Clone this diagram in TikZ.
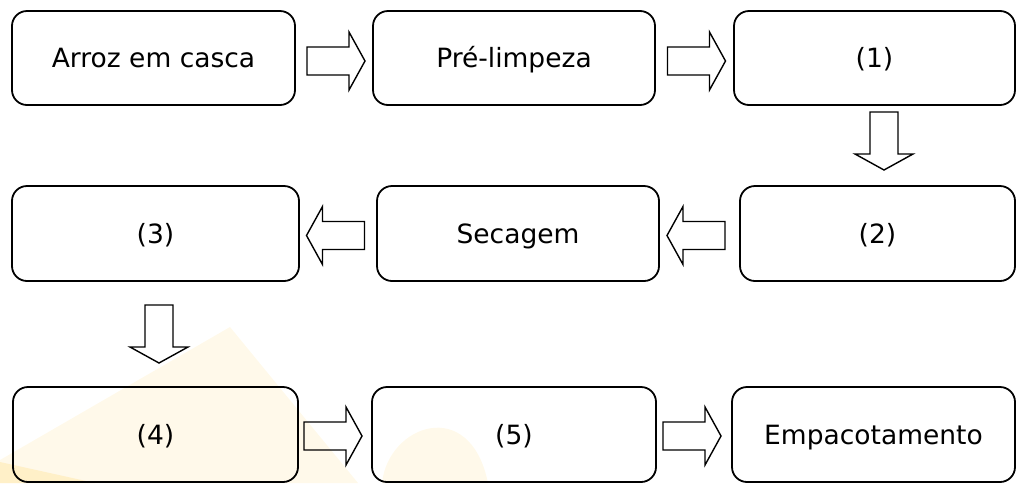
\documentclass[tikz,border=0pt]{standalone}
\usepackage{fontspec}
\setmainfont{DejaVu Sans}
\usetikzlibrary{calc}
\definecolor{wmA}{RGB}{255,249,234}
\definecolor{wmB}{RGB}{255,240,200}
\tikzset{
  box/.style={draw=black, line width=1.8pt, rounded corners=15pt, inner sep=0pt,
    minimum height=95pt, font=\fontsize{26.5}{30}\selectfont,
    text height=19pt, text depth=0pt},
  barrow/.pic={\draw[line width=1.4pt, line join=miter]
    (-29,-14) -- (13,-14) -- (13,-29) -- (29,0) -- (13,29) -- (13,14) -- (-29,14) -- cycle;}
}
\begin{document}
\begin{tikzpicture}[x=1pt,y=-1pt]
\useasboundingbox (0,0) rectangle (1017,483);
% faint watermark
\fill[wmA] (230,327) -- (358,483) -- (0,483) -- (0,460) -- cycle;
\fill[wmB] (0,462) -- (95,483) -- (0,483) -- cycle;
\fill[wmA] (382,483) .. controls (388,425) and (470,395) .. (488,483) -- cycle;
% boxes
\node[box, minimum width=283pt, minimum height=94pt] (b1) at (153.5,58) {Arroz em casca};
\node[box, minimum width=282pt, minimum height=94pt] (b2) at (514,58) {Pré-limpeza};
\node[box, minimum width=281pt, minimum height=94pt] (b3) at (874.5,58) {(1)};
\node[box, minimum width=287pt] (b4) at (155.5,233.5) {(3)};
\node[box, minimum width=282pt] (b5) at (518,233.5) {Secagem};
\node[box, minimum width=275pt] (b6) at (877.5,233.5) {(2)};
\node[box, minimum width=285pt] (b7) at (155.5,434.5) {(4)};
\node[box, minimum width=284pt] (b8) at (514,434.5) {(5)};
\node[box, minimum width=283pt] (b9) at (873.5,434.5) {Empacotamento};
% block arrows
\pic at ($(b1.east)!0.5!(b2.west)+(2,3)$) {barrow};
\pic at ($(b2.east)!0.5!(b3.west)+(2,3)$) {barrow};
\pic[rotate=-90] at ($(b3.south)!0.5!(b6.north)+(8,-4.5)$) {barrow};
\pic[rotate=180] at ($(b6.west)!0.5!(b5.east)+(-3.5,2)$) {barrow};
\pic[rotate=180] at ($(b5.west)!0.5!(b4.east)+(-2.5,2)$) {barrow};
\pic[rotate=-90] at ($(b4.south)!0.5!(b7.north)+(3.5,0)$) {barrow};
\pic at ($(b7.east)!0.5!(b8.west)+(-2,1.5)$) {barrow};
\pic at ($(b8.east)!0.5!(b9.west)+(-2,1.5)$) {barrow};
\end{tikzpicture}
\end{document}
